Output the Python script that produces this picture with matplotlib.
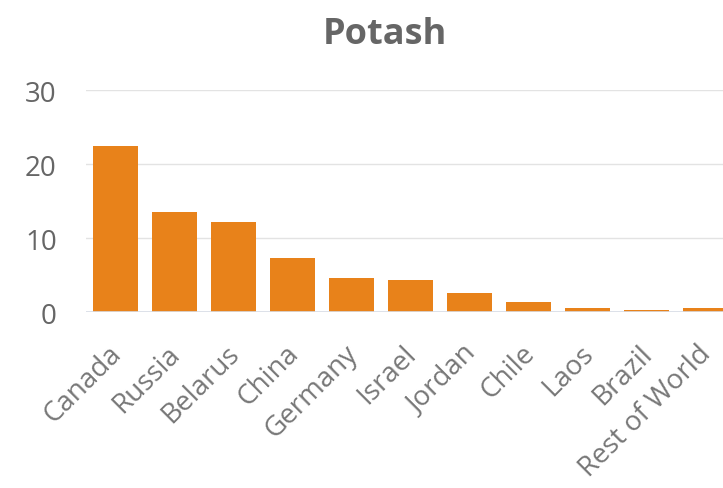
import matplotlib
matplotlib.use("Agg")
import matplotlib.pyplot as plt
from matplotlib.transforms import ScaledTranslation

categories = ["Canada", "Russia", "Belarus", "China", "Germany", "Israel",
              "Jordan", "Chile", "Laos", "Brazil", "Rest of World"]
values = [22.4, 13.5, 12.2, 7.3, 4.6, 4.3, 2.6, 1.4, 0.6, 0.3, 0.6]
yticks = [0, 10, 20, 30]
title = "Potash"

plt.rcParams['font.family'] = ['Open Sans', 'DejaVu Sans']

W, H = 723, 489
fig = plt.figure(figsize=(W / 100, H / 100), dpi=100)
left, right = 86, 735
bottom, top = 313, 91
ax = fig.add_axes([left / W, 1 - bottom / H, (right - left) / W, (bottom - top) / H])

x = range(len(categories))
ax.bar(x, values, width=0.76, color="#E8821A", zorder=3)
ax.set_xlim(-0.5, len(categories) - 0.5)
ax.set_ylim(0, 30)
ax.set_yticks(yticks)
ax.set_yticklabels([str(t) for t in yticks])
ax.grid(axis='y', color="#e3e3e3", linewidth=1.0, zorder=0)
for s in ax.spines.values():
    s.set_visible(False)
ax.tick_params(axis='both', length=0, colors="#666666")
ax.tick_params(axis='y', labelsize=20, pad=21)
ax.set_xticks(list(x))
ax.set_xticklabels(categories, rotation=45, ha='right', rotation_mode='anchor',
                   fontsize=20, color="#777777")
ax.tick_params(axis='x', pad=13)
off = ScaledTranslation(-8 / 100, -9 / 100, fig.dpi_scale_trans)
for lbl in ax.get_xticklabels():
    lbl.set_transform(lbl.get_transform() + off)
ax.axhline(0, color="#d8dde6", linewidth=1.2, zorder=4)

fig.text(385 / W, 1 - 35 / H, title, ha='center', va='center', fontsize=26,
         fontweight='bold', color="#666666")

fig.savefig("out.png", dpi=100)
